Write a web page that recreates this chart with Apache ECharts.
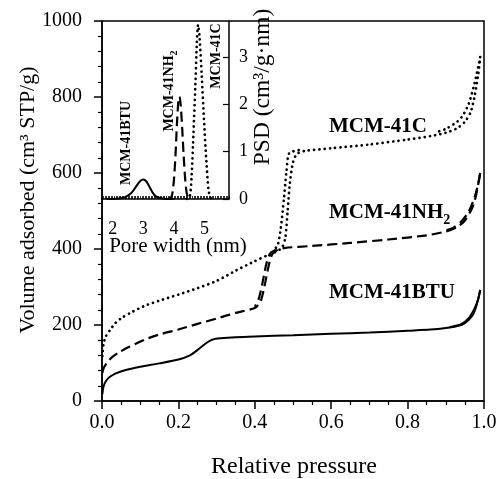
<!DOCTYPE html>
<html><head><meta charset="utf-8">
<script src="https://cdn.jsdelivr.net/npm/echarts@6/dist/echarts.min.js"></script>
<style>html,body{margin:0;padding:0;background:#fff}#c{width:501px;height:479px}</style>
</head><body><div id="c"></div>
<script>
// ---- Main isotherms: [relative pressure, volume adsorbed] ----
const btuAds = [[0.001,18],[0.004,38],[0.01,52],[0.02,63],[0.035,72],[0.06,81],[0.1,90],[0.15,99],[0.2,109],[0.23,120],[0.255,138],[0.275,154],[0.29,162],[0.31,165],[0.35,168],[0.4,170],[0.5,173],[0.6,177],[0.7,180],[0.8,185],[0.86,188],[0.9,192],[0.93,197],[0.95,205],[0.97,225],[0.98,250],[0.99,292]];
const btuDes = [[0.99,292],[0.985,268],[0.975,243],[0.96,218],[0.94,202],[0.91,194]];
const nh2Ads = [[0.001,74],[0.005,88],[0.013,100],[0.025,114],[0.043,127],[0.07,142],[0.113,162],[0.15,175],[0.2,188],[0.25,203],[0.3,217],[0.35,232],[0.4,245],[0.415,262],[0.425,300],[0.435,350],[0.445,385],[0.46,398],[0.48,403],[0.55,408],[0.65,416],[0.75,425],[0.85,436],[0.9,446],[0.93,458],[0.95,475],[0.97,510],[0.98,545],[0.99,600]];
const nh2Des = [[0.99,600],[0.985,572],[0.975,535],[0.96,498],[0.94,472],[0.92,456],[0.9,449],null,[0.455,398],[0.44,388],[0.43,360],[0.42,310],[0.41,268],[0.4,248]];
const cAds = [[0.001,118],[0.004,150],[0.01,170],[0.022,188],[0.035,205],[0.052,219],[0.08,235],[0.113,251],[0.15,264],[0.2,280],[0.25,297],[0.3,316],[0.35,343],[0.4,368],[0.43,382],[0.46,395],[0.472,405],[0.48,430],[0.486,500],[0.492,575],[0.5,628],[0.51,650],[0.53,658],[0.6,665],[0.7,675],[0.8,688],[0.86,697],[0.9,706],[0.93,718],[0.95,735],[0.965,760],[0.975,800],[0.985,860],[0.99,905]];
const cDes = [[0.99,905],[0.985,880],[0.975,835],[0.96,782],[0.945,752],[0.93,735],[0.9,716],[0.87,706],null,[0.515,660],[0.49,652],[0.483,605],[0.476,530],[0.468,455],[0.46,410],[0.45,398]];
// ---- Inset PSD: [pore width nm, PSD] ----
const psdBTU = [[1.8,0],[2.2,0.01],[2.4,0.04],[2.6,0.12],[2.75,0.25],[2.9,0.38],[3.0,0.41],[3.1,0.37],[3.2,0.26],[3.3,0.14],[3.4,0.06],[3.55,0.02],[3.8,0],[4.0,0]];
const psdNH2 = [[3.8,0],[3.9,0.03],[3.95,0.12],[4.0,0.4],[4.05,0.9],[4.1,1.6],[4.15,2.1],[4.18,2.16],[4.22,2.0],[4.27,1.5],[4.32,0.9],[4.37,0.4],[4.42,0.12],[4.47,0.03],[4.55,0]];
const psdC = [[4.42,0],[4.52,0.05],[4.58,0.5],[4.64,1.4],[4.7,2.4],[4.75,3.3],[4.79,3.68],[4.84,3.4],[4.91,2.6],[4.98,1.7],[5.06,0.8],[5.13,0.2],[5.2,0.02],[5.3,0]];
// ---- labels ----
const seriesNames = ['MCM-41C','MCM-41NH{s|2}','MCM-41BTU'];

const F = '"Liberation Serif","Times New Roman",serif';
const K = '#000';
const solid = {color:K,width:2,type:'solid'};
const dashed = {color:K,width:2.2,type:[10,5]};
const dotted = {color:K,width:2.7,type:[0.1,5.2],cap:'round'};
function line(data, ls, xi, yi){
  return {type:'line',data:data,xAxisIndex:xi,yAxisIndex:yi,symbol:'none',showSymbol:false,smooth:0.25,
    connectNulls:false,lineStyle:ls,itemStyle:{color:K},animation:false,silent:true,z:3};
}
const chart = echarts.init(document.getElementById('c'),null,{renderer:'canvas'});
chart.setOption({
  animation:false,
  backgroundColor:'#fff',
  grid:[
    {left:102,top:21,width:382,height:380,show:true,borderColor:K,borderWidth:1.5,backgroundColor:'transparent',outerBoundsMode:'none'},
    {left:102,top:21,width:127,height:178,show:false,outerBoundsMode:'none'}
  ],
  xAxis:[
    {gridIndex:0,type:'value',min:0,max:1,interval:0.2,
     axisLine:{show:true,onZero:false,lineStyle:{color:K,width:1.5}},
     axisTick:{show:true,inside:false,length:8,lineStyle:{color:K,width:1.5}},
     minorTick:{show:true,splitNumber:4,length:4,lineStyle:{color:K,width:1.2}},
     axisLabel:{color:K,fontFamily:F,fontSize:20,margin:12,formatter:v=>v.toFixed(1)},
     splitLine:{show:false}},
    {gridIndex:1,type:'value',min:1.65,max:5.8,interval:0.05,
     axisLine:{show:true,onZero:false,lineStyle:{color:K,width:1.5}},
     axisTick:{show:true,inside:true,length:3,lineStyle:{color:K,width:0.8}},
     axisLabel:{color:K,fontFamily:F,fontSize:18,margin:21,
       formatter:v=>Math.abs(v-Math.round(v))<1e-6?String(Math.round(v)):''},
     splitLine:{show:false}}
  ],
  yAxis:[
    {gridIndex:0,type:'value',min:0,max:1000,interval:200,
     axisLine:{show:true,onZero:false,lineStyle:{color:K,width:1.5}},
     axisTick:{show:true,inside:false,length:8,lineStyle:{color:K,width:1.5}},
     minorTick:{show:true,splitNumber:5,length:4,lineStyle:{color:K,width:1.2}},
     axisLabel:{color:K,fontFamily:F,fontSize:20,margin:20,formatter:v=>String(Math.round(v))},
     splitLine:{show:false}},
    {gridIndex:1,type:'value',position:'right',min:0,max:3.76,interval:1,
     axisLine:{show:true,onZero:false,lineStyle:{color:K,width:1.5}},
     axisTick:{show:true,inside:true,length:6,lineStyle:{color:K,width:1.2}},
     axisLabel:{color:K,fontFamily:F,fontSize:18,margin:10,showMaxLabel:false,formatter:v=>String(Math.round(v))},
     splitLine:{show:false}}
  ],
  series:[
    line(btuAds,solid,0,0), line(btuDes,solid,0,0),
    line(nh2Ads,dashed,0,0), line(nh2Des,dashed,0,0),
    line(cAds,dotted,0,0), line(cDes,dotted,0,0),
    line(psdBTU,solid,1,1), line(psdNH2,dashed,1,1), line(psdC,dotted,1,1)
  ],
  graphic:[
    {type:'text',x:28,y:200,rotation:Math.PI/2,z:10,style:{text:'Volume adsorbed (cm³ STP/g)',fontFamily:F,fontSize:22,fill:K,align:'center',verticalAlign:'middle'}},
    {type:'text',x:294,y:467,z:10,style:{text:'Relative pressure',fontFamily:F,fontSize:24,fill:K,align:'center',verticalAlign:'middle'}},
    {type:'text',x:263,y:87,rotation:Math.PI/2,z:10,style:{text:'PSD (cm³/g·nm)',fontFamily:F,fontSize:23.5,fill:K,align:'center',verticalAlign:'middle'}},
    {type:'text',x:178,y:246,z:10,style:{text:'Pore width (nm)',fontFamily:F,fontSize:21,fill:K,align:'center',verticalAlign:'middle'}},
    {type:'text',x:329,y:127,z:10,style:{text:seriesNames[0],fontFamily:F,fontSize:21,fontWeight:'bold',fill:K,align:'left',verticalAlign:'middle'}},
    {type:'text',x:329,y:213,z:10,style:{text:seriesNames[1],fontFamily:F,fontSize:21,fontWeight:'bold',fill:K,align:'left',verticalAlign:'middle',lineHeight:28,
      rich:{s:{fontFamily:F,fontSize:14,fontWeight:'bold',fill:K,lineHeight:14,verticalAlign:'bottom'}}}},
    {type:'text',x:329,y:293,z:10,style:{text:seriesNames[2],fontFamily:F,fontSize:21,fontWeight:'bold',fill:K,align:'left',verticalAlign:'middle'}},
    {type:'text',x:126,y:143,rotation:Math.PI/2,z:10,style:{text:'MCM-41BTU',fontFamily:F,fontSize:14,fontWeight:'bold',fill:K,align:'center',verticalAlign:'middle'}},
    {type:'text',x:169,y:91,rotation:Math.PI/2,z:10,style:{text:'MCM-41NH{s|2}',fontFamily:F,fontSize:14,fontWeight:'bold',fill:K,align:'center',verticalAlign:'middle',lineHeight:20,
      rich:{s:{fontFamily:F,fontSize:10,fontWeight:'bold',fill:K,lineHeight:10,verticalAlign:'bottom'}}}},
    {type:'text',x:216,y:56,rotation:Math.PI/2,z:10,style:{text:'MCM-41C',fontFamily:F,fontSize:14,fontWeight:'bold',fill:K,align:'center',verticalAlign:'middle'}}
  ]
});
</script></body></html>
